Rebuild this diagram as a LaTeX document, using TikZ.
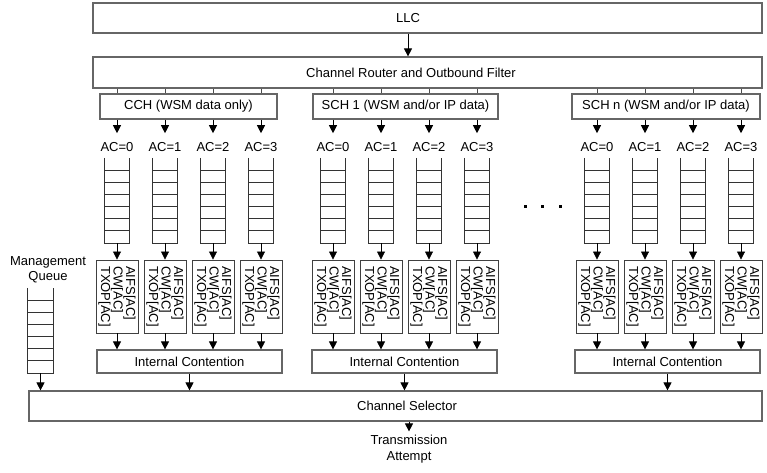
\documentclass[tikz,border=0pt]{standalone}
\usepackage{fontspec}
\setmainfont{Liberation Sans}
\usetikzlibrary{arrows.meta,positioning,calc}

\begin{document}
\begin{tikzpicture}[x=1pt, y=-1pt,
    font=\fontsize{13}{15}\selectfont,
    box/.style={rectangle, draw=black!60, line width=1.2pt, inner sep=0pt},
    edca/.style={rectangle, draw=black!75, line width=0.9pt, rotate=-90, minimum width=73pt, minimum height=42pt, inner sep=1pt, align=left, font=\fontsize{13}{12.5}\selectfont},
    queue/.style={minimum width=24pt, minimum height=85pt, inner sep=0pt},
    aclabel/.style={inner sep=2pt},
    arrow/.style={-{Triangle[width=8pt,length=8pt]}, line width=0.8pt},
    link/.style={draw=black!70, line width=0.8pt},
    qline/.style={draw=black!80, line width=0.8pt}]

    \useasboundingbox (0,0) rectangle (767,472);

    % top of the stack
    \node[box, minimum width=669pt, minimum height=30pt] (llc) at (427.5,18) {};
    \node (llctext) at (408,18) {LLC};
    \node[box, minimum width=669pt, minimum height=31pt] (router) at (427.5,72.5) {};
    \node (routertext) at (411,72.5) {Channel Router and Outbound Filter};
    \draw[arrow] (llc.south -| llctext) -- (router.north -| llctext);

    % channels
    \node[box, minimum width=177pt, minimum height=25pt] (ch1) at (188.5,106.5) {CCH (WSM data only)};
    \node[box, minimum width=185pt, minimum height=25pt] (ch2) at (405.5,106.5) {SCH 1 (WSM and/or IP data)};
    \node[box, minimum width=188pt, minimum height=25pt] (ch3) at (666,106.5) {SCH n (WSM and/or IP data)};

    \node[box, minimum width=185pt, minimum height=23pt] (ic1) at (189.5,361.5) {Internal Contention};
    \node[box, minimum width=185pt, minimum height=23pt] (ic2) at (404.5,361.5) {Internal Contention};
    \node[box, minimum width=185pt, minimum height=23pt] (ic3) at (667.5,361.5) {Internal Contention};

    \node[box, minimum width=733pt, minimum height=30pt] (sel) at (395.5,406) {};
    \node (seltext) at (407,406) {Channel Selector};

    % access categories per channel
    \foreach \g/\xo in {1/117, 2/333, 3/597} {
      \foreach \i in {0,...,3} {
        \pgfmathsetmacro\xc{\xo+48*\i}
        \node[aclabel] (ac-\g-\i) at (\xc,147) {AC=\i};
        \draw[link] (router.south -| ac-\g-\i) -- (ch\g.north -| ac-\g-\i);
        \draw[arrow, shorten >=7pt] (ch\g.south -| ac-\g-\i) -- (ac-\g-\i.north);
        \node[queue] (q-\g-\i) at (\xc,200.5) {};
        \draw[qline] (q-\g-\i.north west) -- (q-\g-\i.south west) -- (q-\g-\i.south east) -- (q-\g-\i.north east);
        \foreach \k in {1,...,6}
          \draw[qline] ($(q-\g-\i.north west)+(0,1+12*\k)$) -- ++(24,0);
        \node[edca] (e-\g-\i) at (\xc,296.5) {AIFS[AC]\\CW[AC]\\TXOP[AC]};
        \draw[arrow] (q-\g-\i.south) -- (e-\g-\i.west);
        \draw[arrow] (e-\g-\i.east) -- (ic\g.north -| e-\g-\i);
      }
      \draw[arrow] (ic\g.south) -- (ic\g.south |- sel.north);
    }

    % more channels
    \foreach \d in {525,542,560}
      \fill (\d-1.5,204.5) rectangle ++(3,3);

    % management queue
    \node[align=center] (mqtext) at (48,269.5) {Management\\Queue};
    \node[queue, minimum width=25pt] (mq) at (40.5,330.5) {};
    \draw[qline] (mq.north west) -- (mq.south west) -- (mq.south east) -- (mq.north east);
    \foreach \k in {1,...,6}
      \draw[qline] ($(mq.north west)+(0,1+12*\k)$) -- ++(25,0);
    \draw[arrow] (mq.south) -- (mq.south |- sel.north);

    % output
    \node[align=center, font=\fontsize{13}{16}\selectfont] (tx) at (409,449) {Transmission\\Attempt};
    \draw[arrow] (sel.south -| tx) -- (tx.north);
\end{tikzpicture}
\end{document}
